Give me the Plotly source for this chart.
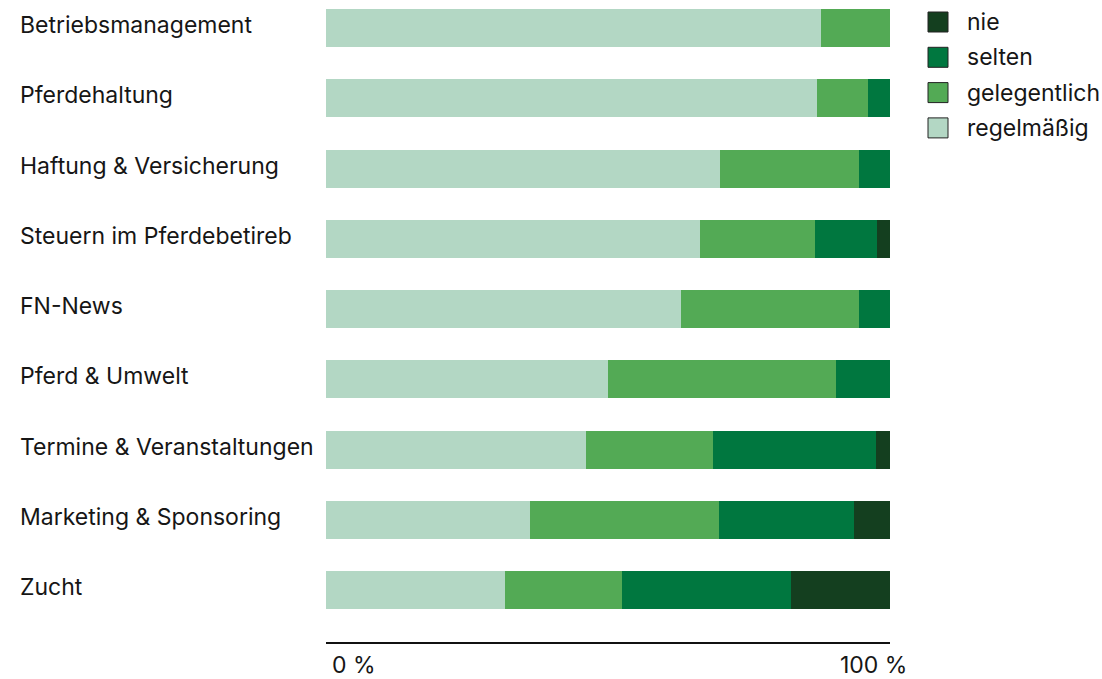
import plotly.graph_objects as go

categories = ["Betriebsmanagement", "Pferdehaltung", "Haftung & Versicherung",
              "Steuern im Pferdebetireb", "FN-News", "Pferd & Umwelt",
              "Termine & Veranstaltungen", "Marketing & Sponsoring", "Zucht"]
regelmaessig = [87.8, 87.1, 69.9, 66.3, 62.9, 50.0, 46.1, 36.2, 31.7]
gelegentlich = [12.2, 9.0, 24.6, 20.4, 31.6, 40.4, 22.5, 33.5, 20.7]
selten = [0.0, 3.9, 5.5, 11.0, 5.5, 9.6, 28.9, 23.9, 30.0]
nie = [0.0, 0.0, 0.0, 2.3, 0.0, 0.0, 2.5, 6.4, 17.6]

series_names = ["regelmäßig", "gelegentlich", "selten", "nie"]
series_values = [regelmaessig, gelegentlich, selten, nie]
colors = {"nie": "#143f1f", "selten": "#00773f", "gelegentlich": "#53aa55", "regelmäßig": "#b3d7c4"}
x_tick_labels = ["0 %", "100 %"]
legend_order = ["nie", "selten", "gelegentlich", "regelmäßig"]

FONT = "Inter"
FS = 23
TXT = "#161616"

fig = go.Figure()
for name, vals in zip(series_names, series_values):
    fig.add_trace(go.Bar(
        y=categories, x=vals, name=name, orientation="h",
        marker=dict(color=colors[name], line=dict(width=0)),
        width=0.54, showlegend=False, hoverinfo="x+name",
    ))

W, H = 1102, 679
ml, mr, mt, mb = 326, 212, 0, 37
pw = W - ml - mr
ph = H - mt - mb

annotations = []
for c in categories:
    annotations.append(dict(
        x=(18 - ml) / pw, xref="paper", y=c, yref="y", text=c.replace("&", "&amp;"),
        showarrow=False, xanchor="left", yanchor="middle", yshift=3,
        font=dict(family=FONT, size=FS, color=TXT),
    ))
annotations.append(dict(x=0, xref="x", y=0, yref="paper", text=x_tick_labels[0],
                        showarrow=False, xanchor="left", yanchor="middle", xshift=4, yshift=-23,
                        font=dict(family=FONT, size=FS, color=TXT)))
annotations.append(dict(x=100, xref="x", y=0, yref="paper", text=x_tick_labels[1],
                        showarrow=False, xanchor="right", yanchor="middle", xshift=19, yshift=-23,
                        font=dict(family=FONT, size=FS, color=TXT)))

shapes = []
for i, name in enumerate(legend_order):
    cy = 22 + i * 35.3
    x0 = (928 - ml) / pw
    x1 = (948 - ml) / pw
    y0 = 1 - (cy - 10 - mt) / ph
    y1 = 1 - (cy + 10 - mt) / ph
    shapes.append(dict(type="rect", xref="paper", yref="paper", x0=x0, x1=x1, y0=y1, y1=y0,
                       fillcolor=colors[name], line=dict(color="#222222", width=1)))
    annotations.append(dict(x=(965 - ml) / pw, xref="paper", y=1 - (cy - mt) / ph, yref="paper",
                            text=name, showarrow=False, xanchor="left", yanchor="middle",
                            font=dict(family=FONT, size=FS, color=TXT)))

fig.update_layout(
    width=W, height=H, margin=dict(l=ml, r=mr, t=mt, b=mb),
    barmode="stack", paper_bgcolor="white", plot_bgcolor="white",
    bargap=0.46,
    xaxis=dict(range=[0, 100], showgrid=False, zeroline=False, showticklabels=False,
               showline=True, linecolor="#111111", linewidth=2, ticks=""),
    yaxis=dict(categoryorder="array", categoryarray=categories, autorange=False,
               range=[8.74, -0.4], showgrid=False, zeroline=False, showticklabels=False,
               showline=False, ticks=""),
    annotations=annotations, shapes=shapes, showlegend=False,
)
fig.write_html("out.html")
